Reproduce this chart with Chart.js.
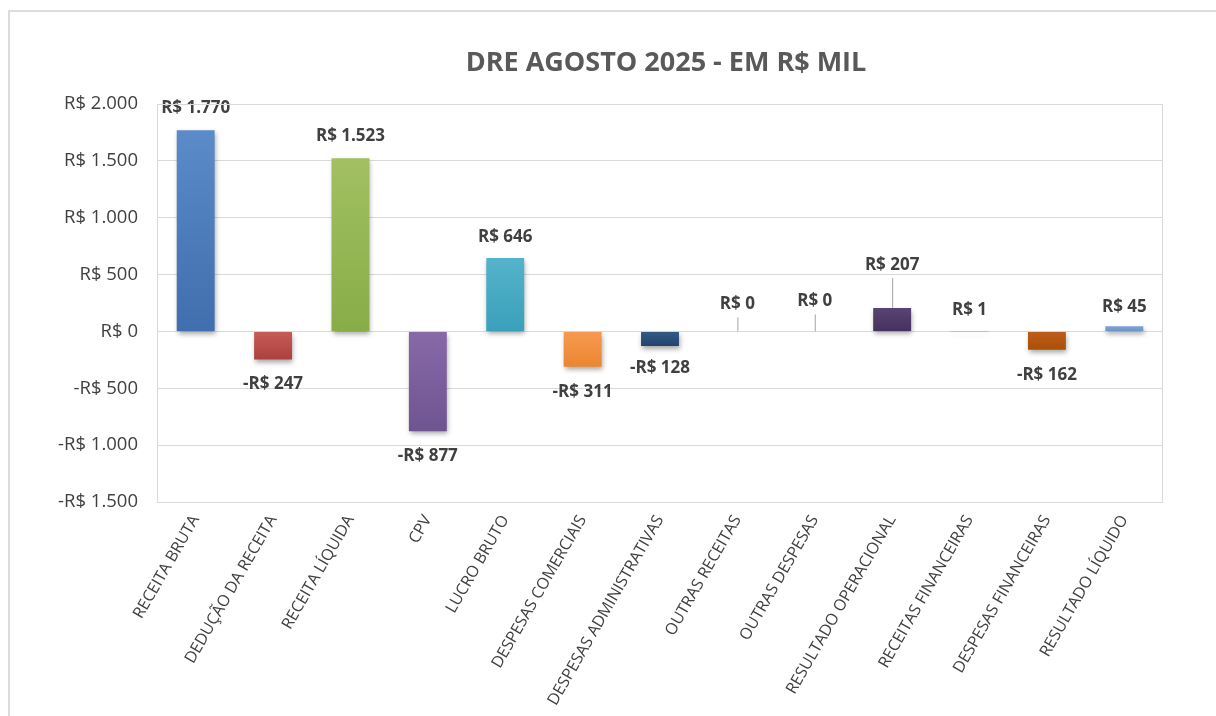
<!DOCTYPE html>
<html>
<head>
<meta charset="utf-8">
<script src="https://cdn.jsdelivr.net/npm/chart.js@4.4.1/dist/chart.umd.min.js"></script>
<style>
  body { margin: 0; background: #fff; }
  #frame { position: absolute; left: 8px; top: 10px; width: 1230px; height: 730px; border: 2px solid #dcdcdc; }
  #dre-chart { position: absolute; left: 0; top: 0; }
</style>
</head>
<body>
<div id="frame"></div>
<canvas id="dre-chart" width="1216" height="716"></canvas>
<script>
// DRE agosto 2025, valores em R$ mil
const categorias = [
  "RECEITA BRUTA",
  "DEDUÇÃO DA RECEITA",
  "RECEITA LÍQUIDA",
  "CPV",
  "LUCRO BRUTO",
  "DESPESAS COMERCIAIS",
  "DESPESAS ADMINISTRATIVAS",
  "OUTRAS RECEITAS",
  "OUTRAS DESPESAS",
  "RESULTADO OPERACIONAL",
  "RECEITAS FINANCEIRAS",
  "DESPESAS FINANCEIRAS",
  "RESULTADO LÍQUIDO",
];
const valores = [1770, -247, 1523, -877, 646, -311, -128, 0, 0, 207, 1, -162, 45];
const yTicks = [-1500, -1000, -500, 0, 500, 1000, 1500, 2000];

// cores (topo, base) de cada barra
const coresTopo = ["#5b8bc8", "#c65c59", "#a2c062", "#8769a8", "#55b3cb", "#f79a50", "#345a86", "#bfbfbf", "#bfbfbf", "#594472", "#3a8ca3", "#be5d1c", "#7ea4d3"];
const coresBase = ["#416eae", "#ad403d", "#88ad47", "#6f5492", "#3aa0ba", "#ea8630", "#23446c", "#a6a6a6", "#a6a6a6", "#46305f", "#2b7a90", "#a95006", "#6a93c9"];
// distancia do rotulo ao fim da barra
const distRotulo = [22, 25, 22, 25, 21, 25, 22, 27, 30, 43, 21, 25, 19];

function fmtBR(v) {
  const s = String(Math.round(Math.abs(v))).replace(/\B(?=(\d{3})+(?!\d))/g, ".");
  return (v < 0 ? "-R$ " : "R$ ") + s;
}

const FONTE = "'Open Sans', 'DejaVu Sans', sans-serif";

const sombraPlugin = {
  id: "sombra",
  beforeDatasetsDraw(chart) {
    const ctx = chart.ctx;
    ctx.save();
    ctx.shadowColor = "rgba(0,0,0,0.35)";
    ctx.shadowBlur = 5;
    ctx.shadowOffsetX = 1;
    ctx.shadowOffsetY = 3;
  },
  afterDatasetsDraw(chart) {
    chart.ctx.restore();
  },
};

const molduraPlugin = {
  id: "moldura",
  afterDraw(chart) {
    const { ctx, chartArea } = chart;
    ctx.save();
    ctx.strokeStyle = "#d9d9d9";
    ctx.lineWidth = 1;
    ctx.strokeRect(chartArea.left + 0.5, chartArea.top + 0.5, chartArea.right - chartArea.left - 1, chartArea.bottom - chartArea.top);
    // titulo
    ctx.fillStyle = "#595959";
    ctx.font = "bold 27px " + FONTE;
    ctx.textAlign = "center";
    ctx.textBaseline = "middle";
    ctx.fillText("DRE AGOSTO 2025 - EM R$ MIL", 666, 63);
    ctx.restore();
  },
};

const rotulosPlugin = {
  id: "rotulos",
  afterDatasetsDraw(chart) {
    const ctx = chart.ctx;
    const meta = chart.getDatasetMeta(0);
    ctx.save();
    ctx.font = "bold 17px " + FONTE;
    ctx.fillStyle = "#404040";
    ctx.textAlign = "center";
    ctx.textBaseline = "middle";
    meta.data.forEach((bar, i) => {
      const v = valores[i];
      const y = v >= 0 ? bar.y - distRotulo[i] : bar.y + distRotulo[i];
      ctx.fillText(fmtBR(v), bar.x, y);
      if (v >= 0 && distRotulo[i] > 25) {
        ctx.strokeStyle = "#a6a6a6";
        ctx.lineWidth = 1;
        ctx.beginPath();
        ctx.moveTo(bar.x + 0.5, y + 13);
        ctx.lineTo(bar.x + 0.5, bar.y);
        ctx.stroke();
      }
    });
    ctx.restore();
  },
};

const ctxDre = document.querySelector("#dre-chart").getContext("2d");

const graficoDre = new Chart(ctxDre, {
  type: "bar",
  data: {
    labels: categorias,
    datasets: [{
      label: "DRE",
      data: valores,
      backgroundColor(c) {
        const chart = c.chart;
        const i = c.dataIndex;
        if (!chart.chartArea || i === undefined) return coresTopo[i] || "#999";
        const ys = chart.scales.y;
        const v = valores[i];
        const y1 = ys.getPixelForValue(Math.max(v, 0));
        const y2 = ys.getPixelForValue(Math.min(v, 0));
        if (Math.abs(y2 - y1) < 1) return coresTopo[i];
        const g = chart.ctx.createLinearGradient(0, y1, 0, y2);
        g.addColorStop(0, coresTopo[i]);
        g.addColorStop(1, coresBase[i]);
        return g;
      },
      borderWidth: 0,
      categoryPercentage: 1,
      barPercentage: 0.49,
    }],
  },
  options: {
    responsive: false,
    animation: false,
    layout: { padding: { left: 6, right: 53, top: 104, bottom: 2 } },
    plugins: {
      legend: { display: false },
      tooltip: { enabled: false },
      title: { display: false },
    },
    scales: {
      x: {
        grid: { display: false, drawTicks: false },
        border: { display: false },
        ticks: {
          autoSkip: false,
          minRotation: 60,
          maxRotation: 60,
          padding: 10,
          color: "#404040",
          font: { family: FONTE, size: 16 },
        },
        afterFit(scale) { scale.height = 212; },
      },
      y: {
        min: -1500,
        max: 2000,
        afterBuildTicks(scale) { scale.ticks = yTicks.map(v => ({ value: v })); },
        grid: { color: "#d9d9d9", drawTicks: false },
        border: { display: false },
        ticks: {
          padding: 19,
          color: "#404040",
          font: { family: FONTE, size: 18.5 },
          callback: v => fmtBR(v),
        },
        afterFit(scale) { scale.width = 151; },
      },
    },
  },
  plugins: [sombraPlugin, rotulosPlugin, molduraPlugin],
});
</script>
</body>
</html>
